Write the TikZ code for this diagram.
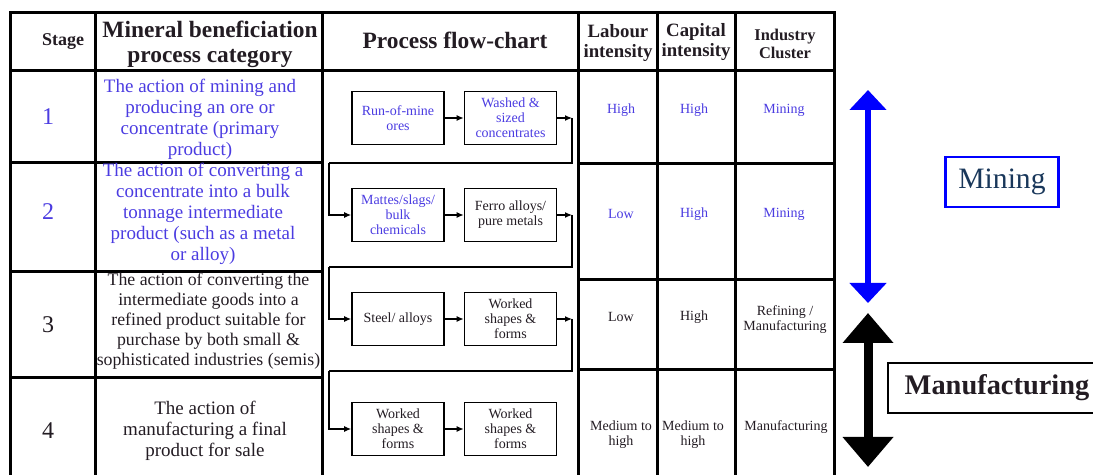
\documentclass[tikz,border=0pt]{standalone}
\usepackage{fontspec}
\setmainfont{Liberation Serif}
\usepackage{xcolor}
\usepackage{tikz}
\usetikzlibrary{arrows.meta}

\definecolor{ink}{RGB}{75,60,225}
\definecolor{dark}{RGB}{35,28,35}
\definecolor{minetext}{RGB}{25,55,90}

\begin{document}
\begin{tikzpicture}[x=0.5pt,y=-0.5pt,
  grid/.style={line width=1.5pt,draw=black},
  hdbig/.style={align=center,text=dark,font=\bfseries\fontsize{11.7}{12.5}\selectfont},
  hdmid/.style={align=center,text=dark,font=\bfseries\fontsize{9.4}{10}\selectfont},
  hdsmall/.style={align=center,text=dark,font=\bfseries\fontsize{8.2}{9}\selectfont},
  stagenum/.style={font=\fontsize{12}{13}\selectfont},
  desc/.style={align=center,inner sep=0pt,font=\fontsize{9.5}{10.5}\selectfont},
  flowbox/.style={draw,line width=0.8pt,minimum width=46pt,minimum height=26.5pt,inner sep=1pt,align=center,font=\fontsize{7}{7.5}\selectfont},
  cell/.style={align=center,inner sep=0pt,font=\fontsize{7}{7.5}\selectfont},
  link/.style={line width=0.6pt,-{Latex[length=3.5pt,width=3pt]}}]
\useasboundingbox (0,0) rectangle (1093,475);

% table lines
\draw[grid] (10,13) rectangle (834,490);
\draw[grid] (10,71) -- (834,71);
\draw[grid] (95,13) -- (95,490);
\draw[grid] (322,13) -- (322,490);
\draw[grid] (578,13) -- (578,490);
\draw[grid] (657,13) -- (657,490);
\draw[grid] (735,13) -- (735,490);
\draw[grid] (10,163) -- (322,163);
\draw[grid] (10,272) -- (322,272);
\draw[grid] (10,378) -- (322,378);
\draw[grid] (578,164) -- (834,164);
\draw[grid] (578,280) -- (834,280);
\draw[grid] (578,370) -- (834,370);

% header
\node (h1) at (63,42) [hdsmall,font=\bfseries\fontsize{9}{10}\selectfont] {Stage};
\node (h2) at (210,44.5) [hdbig] {Mineral beneficiation\\process category};
\node (h3) at (455,40) [hdbig] {Process flow-chart};
\node (h4) at (618,43) [hdmid] {Labour\\intensity};
\node (h5) at (696,42) [hdmid] {Capital\\intensity};
\node (h6) at (785,44) [hdsmall] {Industry\\Cluster};

% stages
\node (s1) at (48,117) [stagenum,text=ink] {1};
\node (s2) at (48,212) [stagenum,text=ink] {2};
\node (s3) at (48,325) [stagenum,text=dark] {3};
\node (s4) at (48,431) [stagenum,text=dark] {4};

\node (d1) at (200,119.5) [desc,text=ink] {The action of mining and\\producing an ore or\\concentrate (primary\\product)};
\node (d2) at (203,214) [desc,text=ink] {The action of converting a\\concentrate into a bulk\\tonnage intermediate\\product (such as a metal\\or alloy)};
\node (d3) at (208.5,321) [desc,text=dark,font=\fontsize{8.9}{10}\selectfont] {The action of converting the\\intermediate goods into a\\refined product suitable for\\purchase by both small \&\\sophisticated industries (semis)};
\node (d4) at (205,431) [desc,text=dark] {The action of\\manufacturing a final\\product for sale};

% flow-chart
\node (1) at (398,118) [flowbox,text=ink] {Run-of-mine\\ores};
\node (2) at (510.5,118) [flowbox,text=ink] {Washed \&\\sized\\concentrates};
\node (3) at (398,215) [flowbox,text=ink] {Mattes/slags/\\bulk\\chemicals};
\node (4) at (510.5,215) [flowbox,text=dark] {Ferro alloys/\\pure metals};
\node (5) at (398,319) [flowbox,text=dark] {Steel/ alloys};
\node (6) at (510.5,319) [flowbox,text=dark] {Worked\\shapes \&\\forms};
\node (7) at (398,429) [flowbox,text=dark] {Worked\\shapes \&\\forms};
\node (8) at (510.5,429) [flowbox,text=dark] {Worked\\shapes \&\\forms};
\coordinate (t1) at (572,118);
\coordinate (b1) at (329,163);
\coordinate (t2) at (572,215);
\coordinate (b2) at (329,267);
\coordinate (t3) at (572,319);
\coordinate (b3) at (329,371);
\draw[link] (1) -- (2);
\draw[link] (2) -- (t1);
\draw[line width=0.6pt] (t1) |- (b1);
\draw[link] (b1) |- (3);
\draw[link] (3) -- (4);
\draw[link] (4) -- (t2);
\draw[line width=0.6pt] (t2) |- (b2);
\draw[link] (b2) |- (5);
\draw[link] (5) -- (6);
\draw[link] (6) -- (t3);
\draw[line width=0.6pt] (t3) |- (b3);
\draw[link] (b3) |- (7);
\draw[link] (7) -- (8);

% intensity and cluster
\node (lab1) at (621,110) [cell,text=ink] {High};
\node (cap1) at (694,110) [cell,text=ink] {High};
\node (ind1) at (784,110) [cell,text=ink] {Mining};
\node (lab2) at (621,214) [cell,text=ink] {Low};
\node (cap2) at (694,214) [cell,text=ink] {High};
\node (ind2) at (784,214) [cell,text=ink] {Mining};
\node (lab3) at (621,317) [cell,text=dark] {Low};
\node (cap3) at (694,317) [cell,text=dark] {High};
\node (ind3) at (785,319.5) [cell,text=dark] {Refining /\\Manufacturing};
\node (lab4) at (621,435) [cell,text=dark] {Medium to\\high};
\node (cap4) at (693,435) [cell,text=dark] {Medium to\\high};
\node (ind4) at (786,427) [cell,text=dark] {Manufacturing};

% clusters
\coordinate (m1) at (868,90);
\coordinate (m2) at (868,303);
\coordinate (f1) at (868,313);
\coordinate (f2) at (868,467);
\draw[blue,line width=2.6pt,{Triangle[width=18pt,length=10pt]}-{Triangle[width=18pt,length=10pt]}] (m1) -- (m2);
\draw[black,line width=4.5pt,{Triangle[width=24.5pt,length=15pt]}-{Triangle[width=24.5pt,length=15pt]}] (f1) -- (f2);
\node (mine) at (1002,182) [draw=blue,line width=1.2pt,minimum width=56.5pt,minimum height=25pt,text=minetext,font=\fontsize{14.8}{16}\selectfont] {Mining};
\node (manu) at (997,388) [draw,line width=1pt,minimum width=109pt,minimum height=25pt,text=dark,font=\bfseries\fontsize{14.2}{16}\selectfont] {Manufacturing};
\end{tikzpicture}
\end{document}
